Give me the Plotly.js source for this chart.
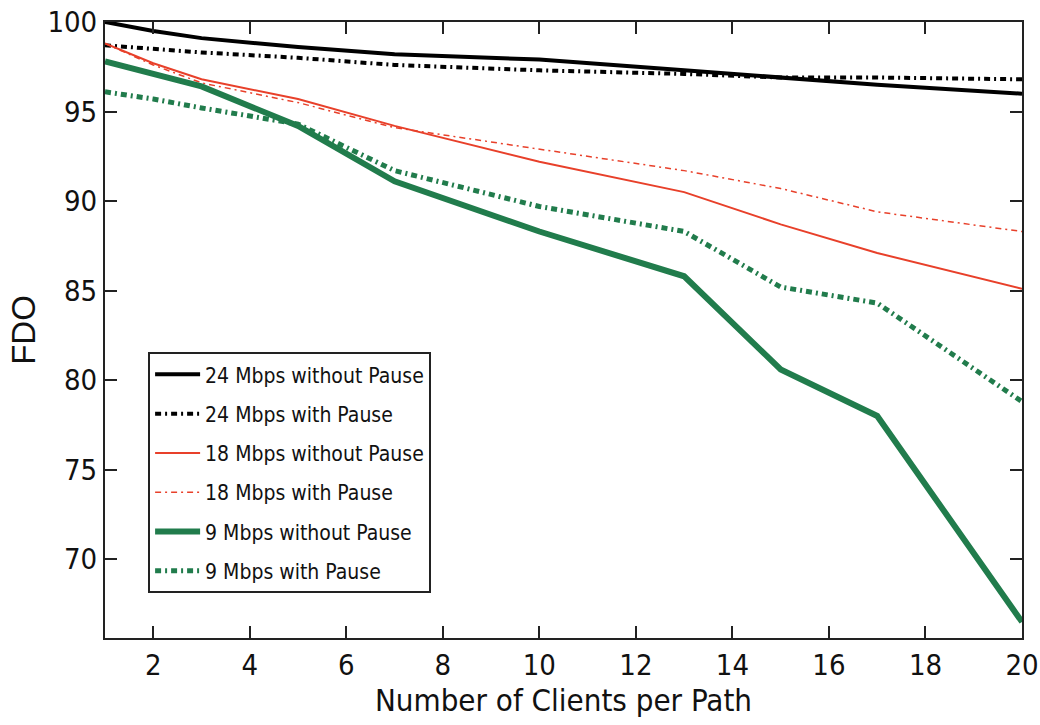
<!DOCTYPE html>
<html>
<head>
<meta charset="utf-8">
<script src="https://cdn.plot.ly/plotly-3.0.1.min.js"></script>
<style>html,body{margin:0;padding:0;background:#fff;}#chart{width:1040px;height:725px;}
#chart text.xtick, #chart text.ytick, #chart text.xtitle, #chart text.legendtext{font-stretch:condensed !important;}</style>
</head>
<body>
<div id="chart"></div>
<script>
const clients = [1, 2, 3, 5, 7, 10, 13, 15, 17, 20];
const fdo24NoPause = [100.0, 99.5, 99.1, 98.6, 98.2, 97.9, 97.3, 96.9, 96.5, 96.0];
const fdo24Pause   = [98.7, 98.5, 98.3, 98.0, 97.6, 97.3, 97.1, 96.9, 96.9, 96.8];
const fdo18NoPause = [98.8, 97.7, 96.8, 95.7, 94.2, 92.2, 90.5, 88.7, 87.1, 85.1];
const fdo18Pause   = [98.8, 97.6, 96.6, 95.5, 94.1, 92.9, 91.7, 90.7, 89.4, 88.3];
const fdo9NoPause  = [97.8, 97.1, 96.4, 94.2, 91.1, 88.3, 85.8, 80.6, 78.0, 66.5];
const fdo9Pause    = [96.1, 95.7, 95.2, 94.3, 91.7, 89.7, 88.3, 85.2, 84.3, 78.8];
const seriesNames = ["24 Mbps without Pause", "24 Mbps with Pause", "18 Mbps without Pause",
                     "18 Mbps with Pause", "9 Mbps without Pause", "9 Mbps with Pause"];
const xTicks = [2, 4, 6, 8, 10, 12, 14, 16, 18, 20];
const yTicks = [70, 75, 80, 85, 90, 95, 100];

const BLACK = '#000000', RED = '#e8402a', GREEN = '#217c4c';
const FONT = '"DejaVu Sans Condensed", "DejaVu Sans", sans-serif';

const styles = [
  {color: BLACK, width: 4, dash: 'solid'},
  {color: BLACK, width: 4, dash: '6px,4px,2px,4px'},
  {color: RED, width: 2, dash: 'solid'},
  {color: RED, width: 1.5, dash: '6px,4px,2px,4px'},
  {color: GREEN, width: 6, dash: 'solid'},
  {color: GREEN, width: 5, dash: '6px,4px,2px,4px'}
];
const ys = [fdo24NoPause, fdo24Pause, fdo18NoPause, fdo18Pause, fdo9NoPause, fdo9Pause];

const data = ys.map((y, i) => ({
  x: clients, y: y, name: seriesNames[i], type: 'scatter', mode: 'lines',
  legendgroup: 'g' + i, line: styles[i]
}));

const axisCommon = {
  showline: true, linecolor: '#222', linewidth: 2, mirror: 'ticks',
  ticks: 'inside', ticklen: 12, tickwidth: 2, tickcolor: '#222',
  showgrid: false, zeroline: false, ticklabeloverflow: 'allow',
  tickfont: {family: FONT, size: 29, color: '#111'}
};

const layout = {
  width: 1040, height: 725,
  margin: {l: 105, r: 18, t: 22, b: 87},
  paper_bgcolor: '#fff', plot_bgcolor: '#fff',
  showlegend: true,
  xaxis: Object.assign({}, axisCommon, {
    range: [1, 20], tickvals: xTicks, ticktext: xTicks.map(String),
    title: {text: 'Number of Clients per Path', font: {family: FONT, size: 31, color: '#111'}, standoff: 2}
  }),
  yaxis: Object.assign({}, axisCommon, {
    range: [65.6, 100], tickvals: yTicks, ticktext: yTicks.map(String),
    title: {text: 'FDO', font: {family: 'Liberation Sans, Arial, sans-serif', size: 33, color: '#111'}, standoff: 2}
  }),
  legend: {
    x: 0.047, y: 0.464, xanchor: 'left', yanchor: 'top',
    bgcolor: '#fff', bordercolor: '#222', borderwidth: 2,
    font: {family: FONT, size: 21, color: '#111'},
    itemwidth: 45, tracegroupgap: 9
  }
};

Plotly.newPlot('chart', data, layout, {displayModeBar: false, staticPlot: true});
</script>
</body>
</html>
